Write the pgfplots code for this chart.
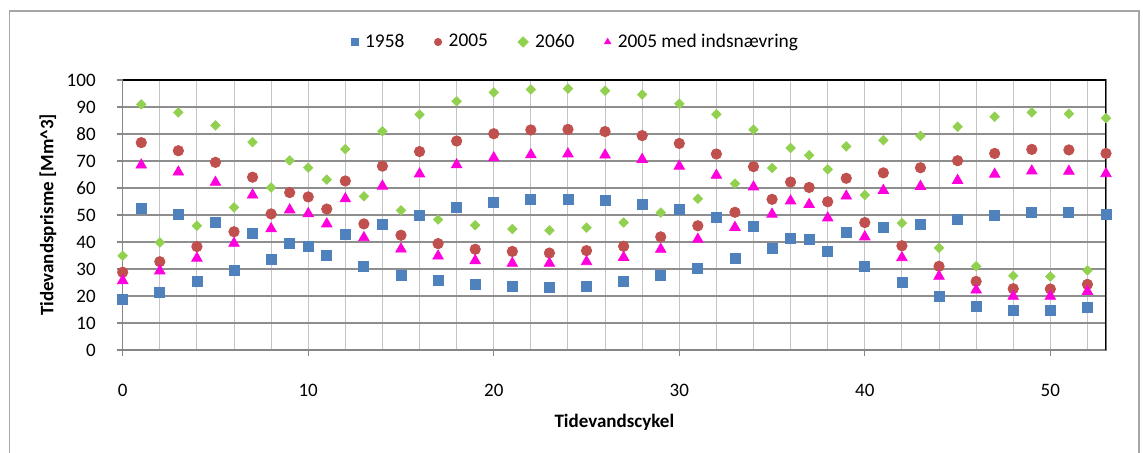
\documentclass[border=0pt]{standalone}
\usepackage{fontspec}
\setmainfont{Carlito}
\usepackage{pgfplots}
\usepackage{pgfplotstable}
\pgfplotsset{compat=1.18}
\definecolor{cA}{HTML}{4F81BD}
\definecolor{cB}{HTML}{C0504D}
\definecolor{cC}{HTML}{92D050}
\definecolor{cD}{HTML}{FF00DD}
\definecolor{gridv}{HTML}{C4C4C4}
\definecolor{gridh}{HTML}{8E8E8E}
\definecolor{axgray}{HTML}{868686}

\pgfplotstableread{
x a b c d
0 18.8 28.8 34.9 25.7
1 52.5 76.8 91.0 68.5
2 21.5 32.7 39.8 29.3
3 50.4 73.8 88.0 65.9
4 25.4 38.3 46.0 34.0
5 47.2 69.5 83.2 62.1
6 29.4 43.8 52.8 39.5
7 43.3 64.0 77.0 57.4
8 33.7 50.4 60.2 44.9
9 39.4 58.3 70.2 51.9
10 38.3 56.7 67.5 50.5
11 34.9 52.2 63.1 46.7
12 42.7 62.6 74.4 56.0
13 31.0 46.7 56.9 41.6
14 46.7 68.1 81.0 60.7
15 27.8 42.5 51.7 37.4
16 50.0 73.5 87.2 65.2
17 25.7 39.4 48.3 34.8
18 52.7 77.4 92.1 68.6
19 24.2 37.3 46.2 33.1
20 54.7 80.1 95.4 71.2
21 23.7 36.5 44.8 32.1
22 55.6 81.5 96.5 72.3
23 23.3 35.9 44.3 32.1
24 55.9 81.7 96.8 72.6
25 23.7 36.8 45.3 32.7
26 55.3 80.9 96.0 72.2
27 25.3 38.4 47.2 34.3
28 53.8 79.4 94.6 70.6
29 27.5 41.9 50.9 37.3
30 51.9 76.5 91.2 68.1
31 30.4 46.0 56.0 41.0
32 49.1 72.6 87.3 64.7
33 34.1 51.0 61.6 45.4
34 45.6 67.9 81.6 60.4
35 37.7 55.8 67.4 50.3
36 41.5 62.2 74.8 55.2
37 41.0 60.2 72.1 53.9
38 36.5 54.9 66.9 48.9
39 43.5 63.6 75.4 57.0
40 31.0 47.2 57.4 41.9
41 45.3 65.6 77.7 59.1
42 25.2 38.6 47.0 34.2
43 46.7 67.5 79.3 60.6
44 19.8 31.0 37.8 27.3
45 48.4 70.1 82.7 62.8
46 16.0 25.4 31.0 22.2
47 50.0 72.8 86.4 65.1
48 14.6 22.7 27.5 19.9
49 50.9 74.3 88.0 66.3
50 14.6 22.6 27.2 19.9
51 51.1 74.1 87.5 66.2
52 15.9 24.3 29.5 21.7
53 50.2 72.8 85.9 65.3
}\data

\begin{document}
\begin{tikzpicture}
\useasboundingbox (-61.35pt,-51.5pt) rectangle (510.15pt,175pt);
\draw[gray!70, line width=0.6pt] (-56.7pt,-60pt) -- (-56.7pt,169.5pt) -- (508.15pt,169.5pt) -- (508.15pt,-60pt);
\begin{axis}[
  at={(0pt,0pt)}, anchor=south west,
  scale only axis, width=491.65pt, height=135pt,
  xmin=0, xmax=53, ymin=0, ymax=100,
  xtick={0,10,...,50}, minor xtick={2,4,...,52},
  ytick={0,10,...,100},
  xmajorgrids, xminorgrids, ymajorgrids,
  major x grid style={draw=gridv, line width=0.5pt},
  minor x grid style={draw=gridv, line width=0.5pt},
  major y grid style={draw=gridh, line width=0.6pt},
  tick pos=left, tick align=outside,
  major tick length=3pt, minor tick length=0pt,
  tick style={draw=axgray, line width=0.6pt},
  axis line style={draw=axgray, line width=0.8pt},
  /pgf/number format/assume math mode=true,
  tick label style={font=\fontsize{9.5}{11}\selectfont},
  xticklabel style={anchor=center, yshift=-17pt},
  yticklabel style={xshift=-7pt},
  label style={font=\fontsize{9.5}{11}\selectfont\bfseries},
  xlabel={Tidevandscykel},
  ylabel={Tidevandsprisme  [Mm\textasciicircum 3]},
  xlabel style={at={(axis description cs:0.5,-0.267)}, anchor=center},
  ylabel style={at={(axis description cs:-0.076,0.5)}, anchor=center},
  legend style={at={(0.4615,1.1407)}, anchor=center, draw=none, fill=none,
    legend columns=4, font=\fontsize{9.7}{11}\selectfont,
    /tikz/every odd column/.append style={column sep=1.5pt},
    /tikz/every even column/.append style={column sep=13pt}},
  legend image code/.code={\draw[#1, mark size=1.8pt] plot coordinates {(0pt,0pt)};},
]
\addplot[only marks, mark=square*, mark size=2.5pt, mark options={draw=cA, fill=cA}] table[x=x, y=a] {\data};
\addlegendentry{1958}
\addplot[only marks, mark=*, mark size=2.6pt, mark options={draw=cB, fill=cB}] table[x=x, y=b] {\data};
\addlegendentry{2005}
\addplot[only marks, mark=square*, mark size=1.65pt, mark options={draw=cC, fill=cC, rotate=45}] table[x=x, y=c] {\data};
\addlegendentry{2060}
\addplot[only marks, mark=triangle*, mark size=3pt, mark options={draw=cD, fill=cD}] table[x=x, y=d] {\data};
\addlegendentry{2005 med indsnævring}
\draw[black, line width=0.7pt] (rel axis cs:0,1) -- (rel axis cs:1,1) -- (rel axis cs:1,0);
\end{axis}
\end{tikzpicture}
\end{document}
